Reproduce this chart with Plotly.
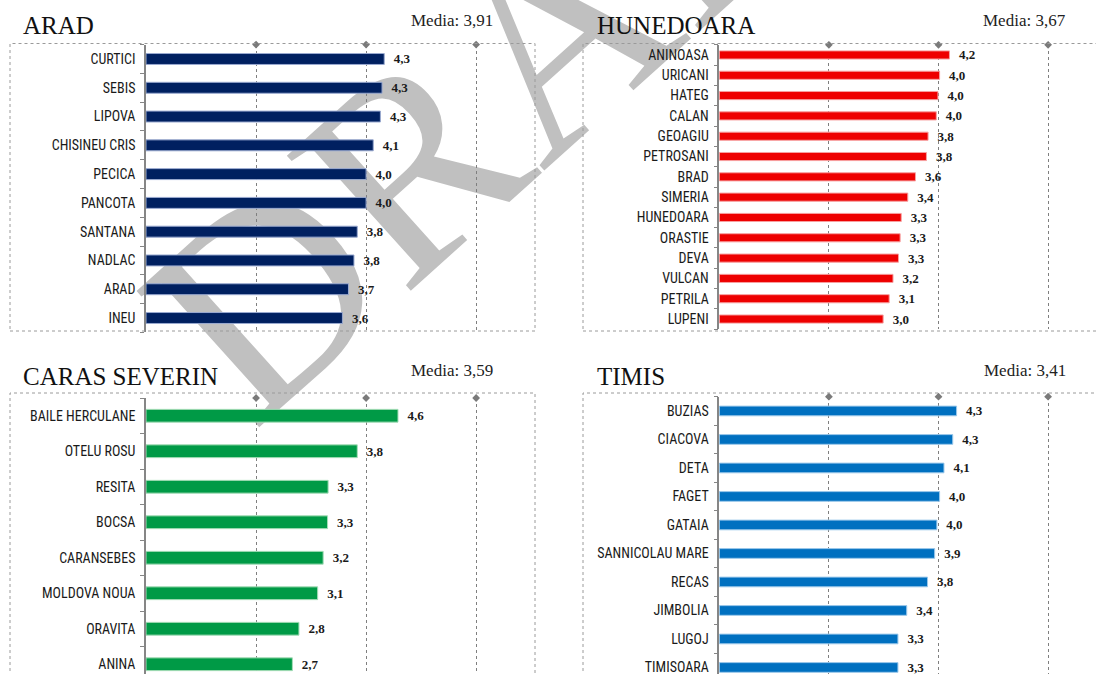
import plotly.graph_objects as go

W, H = 1096, 674

# ---------------- data ----------------
arad_cities = ["CURTICI", "SEBIS", "LIPOVA", "CHISINEU CRIS", "PECICA", "PANCOTA",
               "SANTANA", "NADLAC", "ARAD", "INEU"]
arad_values = [4.33, 4.29, 4.26, 4.13, 4.00, 4.00, 3.84, 3.78, 3.68, 3.57]
arad_media = "3,91"

hunedoara_cities = ["ANINOASA", "URICANI", "HATEG", "CALAN", "GEOAGIU", "PETROSANI", "BRAD",
                    "SIMERIA", "HUNEDOARA", "ORASTIE", "DEVA", "VULCAN", "PETRILA", "LUPENI"]
hunedoara_values = [4.20, 4.02, 3.99, 3.96, 3.81, 3.78, 3.58, 3.44, 3.32, 3.30, 3.27, 3.17, 3.10, 2.99]
hunedoara_media = "3,67"

caras_cities = ["BAILE HERCULANE", "OTELU ROSU", "RESITA", "BOCSA", "CARANSEBES",
                "MOLDOVA NOUA", "ORAVITA", "ANINA"]
caras_values = [4.58, 3.84, 3.31, 3.30, 3.22, 3.12, 2.78, 2.66]
caras_media = "3,59"

timis_cities = ["BUZIAS", "CIACOVA", "DETA", "FAGET", "GATAIA", "SANNICOLAU MARE",
                "RECAS", "JIMBOLIA", "LUGOJ", "TIMISOARA"]
timis_values = [4.33, 4.26, 4.10, 4.02, 3.97, 3.93, 3.80, 3.42, 3.26, 3.26]
timis_media = "3,41"

grid_ticks = [2, 4, 6]
watermark_text = "DRAFT"

# ---------------- layout helpers (pixel geometry) ----------------
def fx(p):
    return p / W

def fy(p):
    return 1 - p / H

panels = [
    dict(title="ARAD", cities=arad_cities, values=arad_values, media=arad_media,
         color="#002060", edge="#9AAAD0", xdom=(146, 535), ydom=(44.6, 332.4),
         xmax=7.07, rows=len(arad_cities), bw=0.38,
         box=(10, 535, 43.5, 331), title_pos=(21, 25), media_pos=(495, 20)),
    dict(title="HUNEDOARA", cities=hunedoara_cities, values=hunedoara_values, media=hunedoara_media,
         color="#EE0000", edge="#F7A0A0", xdom=(719.3, 1096), ydom=(44.8, 329.2),
         xmax=(1096 - 719.3) / 54.8, rows=len(hunedoara_cities), bw=0.40,
         box=(583, 1108, 43.5, 331), title_pos=(595, 25), media_pos=(1068, 20)),
    dict(title="CARAS SEVERIN", cities=caras_cities, values=caras_values, media=caras_media,
         color="#009A46", edge="#A6DDB8", xdom=(146, 535), ydom=(398, 674),
         xmax=7.07, rows=(674 - 398) / 35.5, bw=0.36,
         box=(10, 535, 393, 700), title_pos=(21, 376), media_pos=(495, 370)),
    dict(title="TIMIS", cities=timis_cities, values=timis_values, media=timis_media,
         color="#0070C0", edge="#9CC8EA", xdom=(719.3, 1096), ydom=(396.7, 674),
         xmax=(1096 - 719.3) / 54.8, rows=(674 - 396.7) / 28.5, bw=0.34,
         box=(583, 1108, 393, 700), title_pos=(595, 376), media_pos=(1068, 370)),
]

fig = go.Figure()
layout = dict(
    width=W, height=H, margin=dict(l=0, r=0, t=0, b=0),
    paper_bgcolor="white", plot_bgcolor="rgba(0,0,0,0)",
    showlegend=False, annotations=[], shapes=[],
)

LABEL_FONT = "Liberation Sans Narrow, Roboto Condensed, Arial Narrow, Roboto, sans-serif"
SERIF = "Liberation Serif, Times New Roman, serif"

# watermark (real text, drawn below everything)
layout["shapes"].append(dict(
    type="rect", xref="paper", yref="paper",
    x0=fx(491), x1=fx(531), y0=fy(53), y1=fy(13),
    line=dict(width=0), fillcolor="rgba(0,0,0,0)", layer="below",
    label=dict(text=watermark_text, textangle=-42, textposition="middle center",
               font=dict(family=SERIF, size=280, color="#C0C0C0")),
))

for i, p in enumerate(panels, start=1):
    xa = "x" if i == 1 else f"x{i}"
    ya = "y" if i == 1 else f"y{i}"
    n = len(p["cities"])
    idx = list(range(n))
    labels = [f"{v:.1f}".replace(".", ",") for v in p["values"]]

    fig.add_trace(go.Bar(
        x=p["values"], y=idx, orientation="h", xaxis=xa, yaxis=ya,
        width=p["bw"], marker=dict(color=p["color"], line=dict(color=p["edge"], width=1)),
        text=labels, texttemplate="\u00a0\u00a0%{text}", textposition="outside",
        constraintext="none",
        textfont=dict(family=SERIF, size=13, color="#1a1a1a", weight="bold"),
        cliponaxis=False, hoverinfo="skip",
    ))
    # small diamond tick markers on top of gridlines
    fig.add_trace(go.Scatter(
        x=grid_ticks, y=[-0.5] * len(grid_ticks), mode="markers", xaxis=xa, yaxis=ya,
        marker=dict(symbol="diamond", size=6, color="#7a7a7a"),
        cliponaxis=False, hoverinfo="skip",
    ))

    layout[f"xaxis{'' if i == 1 else i}"] = dict(
        domain=[fx(p["xdom"][0]), fx(p["xdom"][1])], range=[0, p["xmax"]],
        anchor=ya, tickvals=grid_ticks, showticklabels=False, ticks="",
        showgrid=True, gridcolor="#7f7f7f", griddash="dot", gridwidth=1,
        zeroline=False, showline=False, fixedrange=True,
    )
    layout[f"yaxis{'' if i == 1 else i}"] = dict(
        domain=[fy(p["ydom"][1]), fy(p["ydom"][0])], range=[p["rows"] - 0.5, -0.5],
        anchor=xa, tickvals=idx, ticktext=p["cities"], ticks="",
        tickfont=dict(family=LABEL_FONT, size=14, color="#1a1a1a"),
        ticklabelstandoff=6, ticklabeloverflow="allow",
        showline=True, linecolor="#868686", linewidth=1.5,
        minor=dict(tickvals=[k - 0.5 for k in range(n + 1)], ticks="outside",
                   ticklen=4, tickcolor="#868686", tickwidth=1, showgrid=False),
        showgrid=False, zeroline=False, fixedrange=True,
    )

    bx0, bx1, by0, by1 = p["box"]
    layout["shapes"].append(dict(
        type="rect", xref="paper", yref="paper",
        x0=fx(bx0), x1=fx(bx1), y0=fy(by1), y1=fy(by0),
        line=dict(color="#9a9a9a", width=1, dash="dot"), fillcolor="rgba(0,0,0,0)",
        layer="above",
    ))
    tx, ty = p["title_pos"]
    layout["annotations"].append(dict(
        text=p["title"], xref="paper", yref="paper", x=fx(tx), y=fy(ty),
        xanchor="left", yanchor="middle", showarrow=False,
        font=dict(family=SERIF, size=25, color="#111111"),
    ))
    mx, my = p["media_pos"]
    layout["annotations"].append(dict(
        text=f"Media: {p['media']}", xref="paper", yref="paper", x=fx(mx), y=fy(my),
        xanchor="right", yanchor="middle", showarrow=False,
        font=dict(family=SERIF, size=17, color="#222222"),
    ))

fig.update_layout(**layout)
fig.write_html("out.html", config={"displayModeBar": False},
               post_script="document.body.style.margin='0px';document.body.style.overflow='hidden';")
